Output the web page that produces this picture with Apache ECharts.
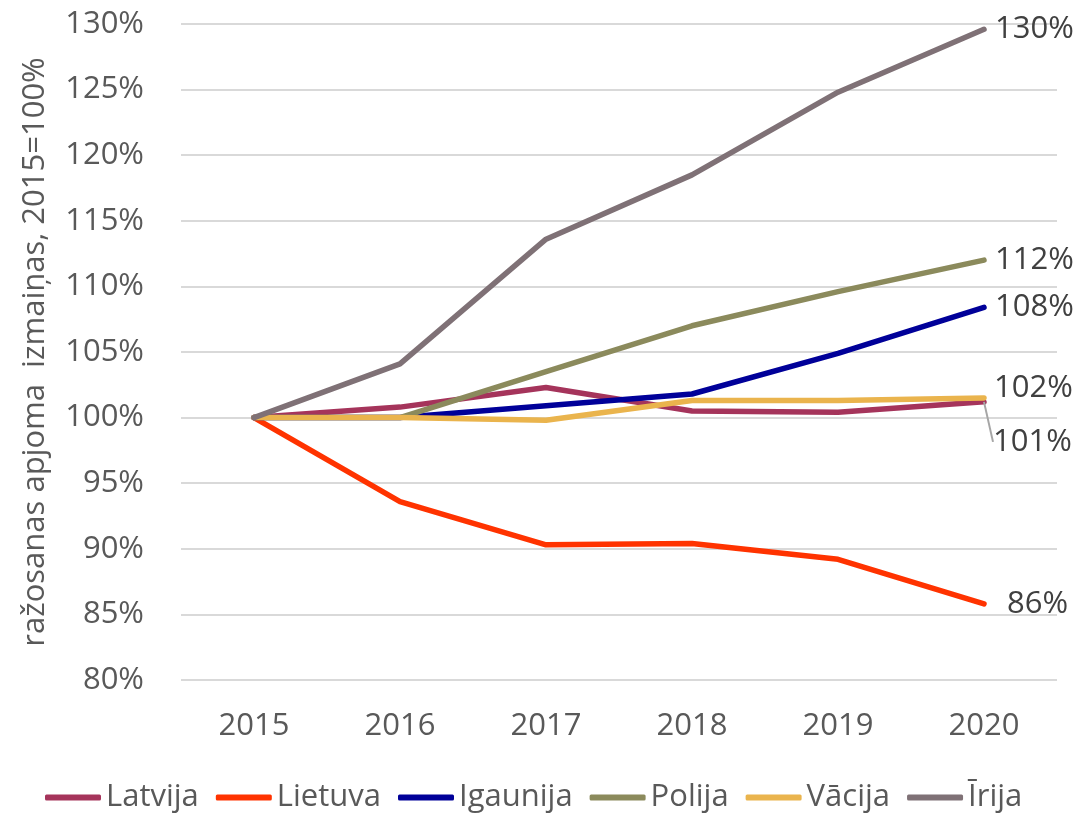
<!DOCTYPE html>
<html>
<head>
<meta charset="utf-8">
<script src="https://cdn.jsdelivr.net/npm/echarts@6/dist/echarts.min.js"></script>
<style>
    html, body { margin: 0; padding: 0; background: #fff; }
    #chart { width: 1076px; height: 822px; }
</style>
</head>
<body>
<div id="chart"></div>
<script>
var years = ["2015", "2016", "2017", "2018", "2019", "2020"];
var latvija = [100, 100.8, 102.3, 100.5, 100.4, 101.2];
var lietuva = [100, 93.6, 90.3, 90.4, 89.2, 85.8];
var igaunija = [100, 100, 100.9, 101.8, 104.9, 108.4];
var polija = [100, 100, 103.5, 107.0, 109.6, 112.0];
var vacija = [100, 100, 99.8, 101.3, 101.3, 101.5];
var irija = [100, 104.1, 113.6, 118.5, 124.8, 129.6];
var yTicks = [80, 130, 5]; // min, max, step

var font = "Open Sans";

// pedeja punkta etikete
function lastLabel(values, extra) {
    var data = [];
    for (var i = 0; i < values.length; i++) {
        if (i == values.length - 1) {
            var lbl = {
                show: true,
                position: 'right',
                distance: 11,
                color: '#404040',
                fontSize: 31,
                fontFamily: font,
                formatter: function (p) { return Math.round(p.value) + '%'; }
            };
            for (var k in extra) { lbl[k] = extra[k]; }
            data.push({ value: values[i], label: lbl });
        } else {
            data.push(values[i]);
        }
    }
    return data;
}

function makeSeries(name, values, color, extra) {
    return {
        name: name,
        type: 'line',
        data: lastLabel(values, extra || {}),
        symbol: 'circle',
        symbolSize: 0,
        showSymbol: true,
        itemStyle: { color: color },
        lineStyle: { color: color, width: 5.5, cap: 'round', join: 'round' },
        emphasis: { disabled: true },
        animation: false
    };
}

var chart = echarts.init(document.getElementById("chart"));

var latSeries = makeSeries('Latvija', latvija, '#A5345B', { distance: 9 });
latSeries.labelLayout = { dy: 40 };
latSeries.labelLine = { show: true, lineStyle: { color: '#A6A6A6', width: 2 } };

var option = {
    backgroundColor: '#fff',
    textStyle: { fontFamily: font },
    grid: { left: 181, right: 19, top: 24, bottom: 142 },
    legend: {
        left: 45,
        top: 782,
        padding: 0,
        icon: 'roundRect',
        itemWidth: 56,
        itemHeight: 6,
        itemGap: 17,
        textStyle: { color: '#595959', fontSize: 31, fontFamily: font },
        data: ['Latvija', 'Lietuva', 'Igaunija', 'Polija', 'Vācija', 'Īrija']
    },
    xAxis: {
        type: 'category',
        data: years,
        boundaryGap: true,
        axisLine: { show: false },
        axisTick: { show: false },
        axisLabel: { color: '#595959', fontSize: 31, fontFamily: font, margin: 31 }
    },
    yAxis: {
        type: 'value',
        min: yTicks[0],
        max: yTicks[1],
        interval: yTicks[2],
        name: 'ražosanas apjoma  izmaiņas, 2015=100%',
        nameLocation: 'middle',
        nameRotate: 90,
        nameGap: 130,
        nameTextStyle: { color: '#595959', fontSize: 31, fontFamily: font },
        axisLine: { show: false },
        axisTick: { show: false },
        axisLabel: { color: '#595959', fontSize: 31, fontFamily: font, margin: 37, formatter: '{value}%' },
        splitLine: { lineStyle: { color: '#D9D9D9', width: 2 } }
    },
    series: [
        latSeries,
        makeSeries('Lietuva', lietuva, '#FF3300', { distance: 23 }),
        makeSeries('Igaunija', igaunija, '#000099', {}),
        makeSeries('Polija', polija, '#8B8A5C', {}),
        makeSeries('Vācija', vacija, '#EAB44D', { distance: 10, offset: [0, -10] }),
        makeSeries('Īrija', irija, '#7F7176', {})
    ]
};
chart.setOption(option);
</script>
</body>
</html>
